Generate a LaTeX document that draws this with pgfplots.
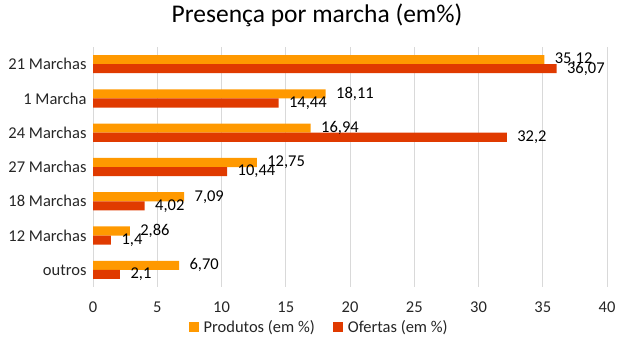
\documentclass[border=0pt]{standalone}
\usepackage{pgfplots}
\pgfplotsset{compat=1.18}
\usepackage{fontspec}
\setmainfont{Carlito}
\definecolor{prod}{RGB}{255,153,0}
\definecolor{ofer}{RGB}{224,58,0}
\definecolor{gridc}{RGB}{217,217,217}
\definecolor{txt}{RGB}{38,38,38}
\begin{document}
\begin{tikzpicture}[x=1pt,y=1pt]
\useasboundingbox (0,0) rectangle (618,354);
\node[font=\fontsize{25.5}{30}\selectfont, text=black] at (317,339) {Presença por marcha (em\%)};
\begin{axis}[
  at={(93pt,67pt)}, anchor=south west,
  width=514pt, height=240pt, scale only axis,
  xbar, y dir=reverse,
  xmin=0, xmax=40, xtick={0,5,...,40},
  ymin=-0.5, ymax=6.5,
  ytick={0,...,6},
  yticklabels={21 Marchas,1 Marcha,24 Marchas,27 Marchas,18 Marchas,12 Marchas,outros},
  axis line style={draw=none},
  major tick length=0pt,
  xmajorgrids, grid style={gridc, line width=0.8pt},
  ticklabel style={font=\fontsize{16.5}{19}\selectfont, text=txt},
  /pgf/number format/assume math mode=true,
  xticklabel style={yshift=-11pt},
  yticklabel style={xshift=-3pt},
  bar width=0.265,
  nodes near coords,
  point meta=explicit symbolic,
  every node near coord/.append style={font=\fontsize{16.5}{19}\selectfont, text=black, anchor=west, xshift=7pt},
  legend style={at={(0.44,-0.167)}, anchor=center, draw=none, legend columns=2,
    font=\fontsize{16.5}{19}\selectfont, text=txt,
    /tikz/every even column/.append style={column sep=16pt}},
  legend image code/.code={\fill[#1] (0pt,-5pt) rectangle (10pt,5pt); \path (13pt,0pt);},
]
\addplot[fill=prod, draw=none, bar shift=-0.1325] table[meta=lab] {
x y lab
35.12 0 35,12
18.11 1 18,11
16.94 2 16,94
12.75 3 12,75
7.09 4 7,09
2.86 5 2,86
6.70 6 6,70
};
\addlegendentry{Produtos (em \%)}
\addplot[fill=ofer, draw=none, bar shift=0.1325] table[meta=lab] {
x y lab
36.07 0 36,07
14.44 1 14,44
32.2 2 32,2
10.44 3 10,44
4.02 4 4,02
1.4 5 1,4
2.1 6 2,1
};
\addlegendentry{Ofertas (em \%)}
\end{axis}
\end{tikzpicture}
\end{document}
